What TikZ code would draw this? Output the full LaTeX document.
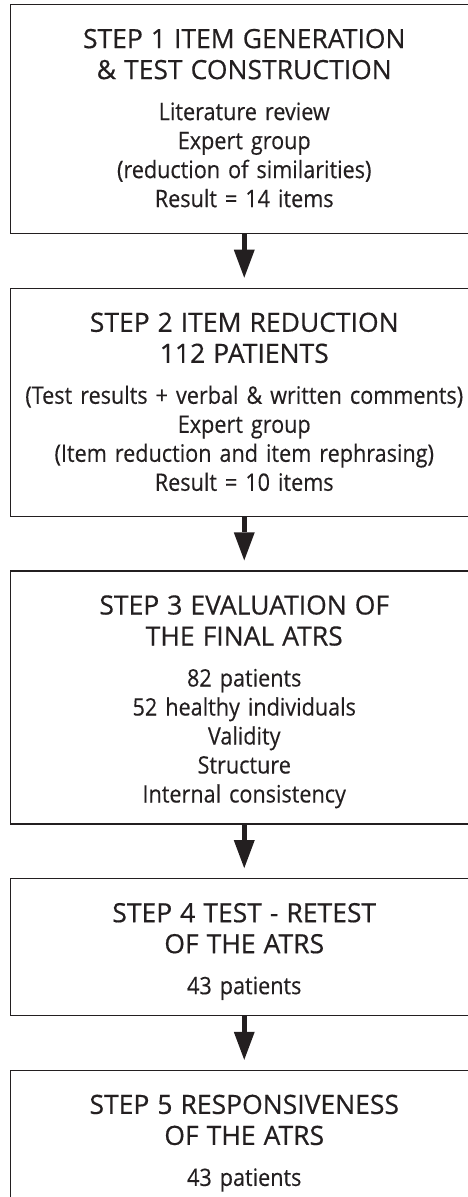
\documentclass[tikz,border=0pt]{standalone}
\usepackage{fontspec}
\setmainfont{Open Sans}[FakeBold=0.5]
\newfontfamily\bodyfont[FakeStretch=0.9,FakeBold=0.3]{Open Sans}
\usetikzlibrary{arrows.meta}
\usetikzlibrary{positioning}
\definecolor{ink}{HTML}{231F20}
\tikzset{
	stepbox/.style={draw=ink, line width=1.2pt, text=ink, minimum width=467.5pt,
		text width=445pt, align=center, inner sep=0pt, text height=43.5pt,
		font=\bodyfont\fontsize{24}{29}\selectfont},
	flow/.style={draw=ink, line width=5pt, shorten >=10pt,
		-{Triangle[width=21pt,length=28pt,line width=0pt]}},
}
\newcommand{\stephead}[1]{{\rmfamily\fontsize{26.5}{31}\selectfont #1}}

\begin{document}
\begin{tikzpicture}[x=1pt, y=1pt, node distance=53.5pt]

	\useasboundingbox (0,0) rectangle (468,-1197);
	\clip (0,0) rectangle (468,-1197);

		\node[stepbox, text depth=185.5pt, anchor=north] (step1) at (244.25,-4)
			{\stephead{STEP 1 ITEM GENERATION}\\[2pt]
			\stephead{\& TEST CONSTRUCTION}\\[12pt]
			Literature review\\
			Expert group\\
			(reduction of similarities)\\
			Result = 14 items};
		\node[stepbox, text depth=184.5pt, below=of step1] (step2)
			{\stephead{STEP 2 ITEM REDUCTION}\\[2pt]
			\stephead{112 PATIENTS}\\[12pt]
			(Test results + verbal \& written comments)\\
			Expert group\\
			(Item reduction and item rephrasing)\\
			Result = 10 items};
		\node[stepbox, text depth=209.5pt, below=of step2] (step3)
			{\stephead{STEP 3 EVALUATION OF}\\[2pt]
			\stephead{THE FINAL ATRS}\\[12pt]
			82 patients\\
			52 healthy individuals\\
			Validity\\
			Structure\\
			Internal consistency};
		\node[stepbox, text depth=93.5pt, below=of step3] (step4)
			{\stephead{STEP 4 TEST - RETEST}\\[2pt]
			\stephead{OF THE ATRS}\\[12pt]
			43 patients};
		\node[stepbox, text depth=100pt, below=of step4] (step5)
			{\stephead{STEP 5 RESPONSIVENESS}\\[2pt]
			\stephead{OF THE ATRS}\\[12pt]
			43 patients};

		\draw[flow] (step1.south) -- (step2.north);
		\draw[flow] (step2.south) -- (step3.north);
		\draw[flow] (step3.south) -- (step4.north);
		\draw[flow] (step4.south) -- (step5.north);
\end{tikzpicture}
\end{document}
